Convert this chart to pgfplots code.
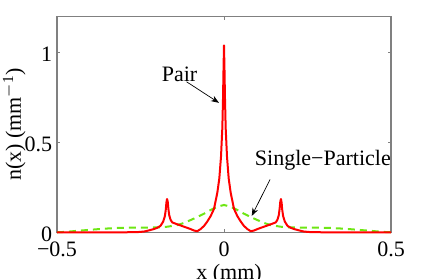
\documentclass[border=0pt]{standalone}
\usepackage{fontspec}
\setmainfont{Liberation Serif}
\usepackage{pgfplots}
\pgfplotsset{compat=1.18}
\usetikzlibrary{arrows.meta}
\definecolor{mgreen}{RGB}{110,230,20}
\definecolor{mgray}{RGB}{128,128,128}
\newcommand{\ff}{\fontsize{11}{13.2}\selectfont}
\begin{document}
\begin{tikzpicture}
\begin{axis}[
  name=ax,
  scale only axis,
  width=167pt, height=107.9pt,
  xmin=-0.5, xmax=0.5, ymin=0, ymax=1.2,
  xtick={-0.5,0,0.5}, xticklabels={−0.5,0,0.5},
  ytick={0,0.5,1}, yticklabels={0,0.5,1},
  tick align=inside,
  major tick length=1.7pt,
  axis line style={mgray, line width=0.6pt},
  every tick/.style={mgray, line width=0.5pt},
  tick label style={font=\ff, text=black},
  yticklabel style={xshift=1.1pt, yshift=-1pt},
  xticklabel style={yshift=-1.2pt},
  xlabel={x (mm)},
  ylabel={n(x) (mm$^{\mathrm{-1}}$)},
  label style={font=\ff},
  xlabel style={at={(axis description cs:0.515,-0.221)}, anchor=base},
  ylabel style={at={(axis description cs:-0.128,0.5)}, anchor=center},
  clip=false,
]
\addplot[mgreen, line width=1pt, dash pattern=on 3.5pt off 2.5pt] coordinates {
(-0.5,0) (-0.47,0.003) (-0.44,0.008) (-0.40,0.014) (-0.36,0.02) (-0.32,0.024)
(-0.28,0.026) (-0.24,0.026) (-0.20,0.027) (-0.17,0.031) (-0.14,0.04) (-0.12,0.052)
(-0.10,0.068) (-0.08,0.085) (-0.06,0.103) (-0.04,0.124) (-0.02,0.142) (0,0.152)
(0.02,0.142) (0.04,0.124) (0.06,0.103) (0.08,0.085) (0.10,0.068) (0.12,0.052)
(0.14,0.04) (0.17,0.031) (0.20,0.027) (0.24,0.026) (0.28,0.026) (0.32,0.024)
(0.36,0.02) (0.40,0.014) (0.44,0.008) (0.47,0.003) (0.5,0)
};
\addplot[red, line width=1pt, line join=round] coordinates {
(-0.5,0) (-0.30,0) (-0.26,0.001) (-0.24,0.004) (-0.23,0.008) (-0.22,0.013)
(-0.21,0.018) (-0.20,0.025) (-0.19,0.036) (-0.182,0.06) (-0.177,0.09) (-0.174,0.13)
(-0.1725,0.165) (-0.1705,0.185) (-0.1685,0.17) (-0.1665,0.13) (-0.164,0.095) (-0.160,0.07)
(-0.155,0.055) (-0.145,0.048) (-0.13,0.038) (-0.115,0.028) (-0.10,0.018) (-0.09,0.010)
(-0.08,0.006) (-0.07,0.018) (-0.06,0.035) (-0.05,0.06) (-0.04,0.09) (-0.03,0.13)
(-0.02,0.22) (-0.014,0.30) (-0.009,0.42) (-0.005,0.58) (-0.003,0.74) (-0.0015,0.90) (0,1.04)
(0.0015,0.90) (0.003,0.74) (0.005,0.58) (0.009,0.42) (0.014,0.30) (0.02,0.22)
(0.03,0.13) (0.04,0.09) (0.05,0.06) (0.06,0.035) (0.07,0.018) (0.08,0.006)
(0.09,0.010) (0.10,0.018) (0.115,0.028) (0.13,0.038) (0.145,0.048) (0.155,0.055)
(0.160,0.07) (0.164,0.095) (0.1665,0.13) (0.1685,0.17) (0.1705,0.185) (0.1725,0.165)
(0.174,0.13) (0.177,0.09) (0.182,0.06) (0.19,0.036) (0.20,0.025) (0.21,0.018)
(0.22,0.013) (0.23,0.008) (0.24,0.004) (0.26,0.001) (0.30,0) (0.5,0)
};
\node[font=\ff, anchor=base, inner sep=0pt] at (axis cs:-0.133,0.837) {Pair};
\draw[-{Stealth[length=4pt,width=3pt]}, line width=0.35pt] (axis cs:-0.112,0.837) -- (axis cs:-0.015,0.72);
\node[font=\ff, anchor=base, inner sep=0pt] at (axis cs:0.296,0.374) {Single−Particle};
\draw[-{Stealth[length=4pt,width=3pt]}, line width=0.35pt] (axis cs:0.138,0.294) -- (axis cs:0.083,0.091);
\end{axis}
\pgfresetboundingbox
\path[use as bounding box] ([shift={(-28.5pt,-23.35pt)}]ax.south west) rectangle ([shift={(189.5pt,116.15pt)}]ax.south west);
\end{tikzpicture}
\end{document}
